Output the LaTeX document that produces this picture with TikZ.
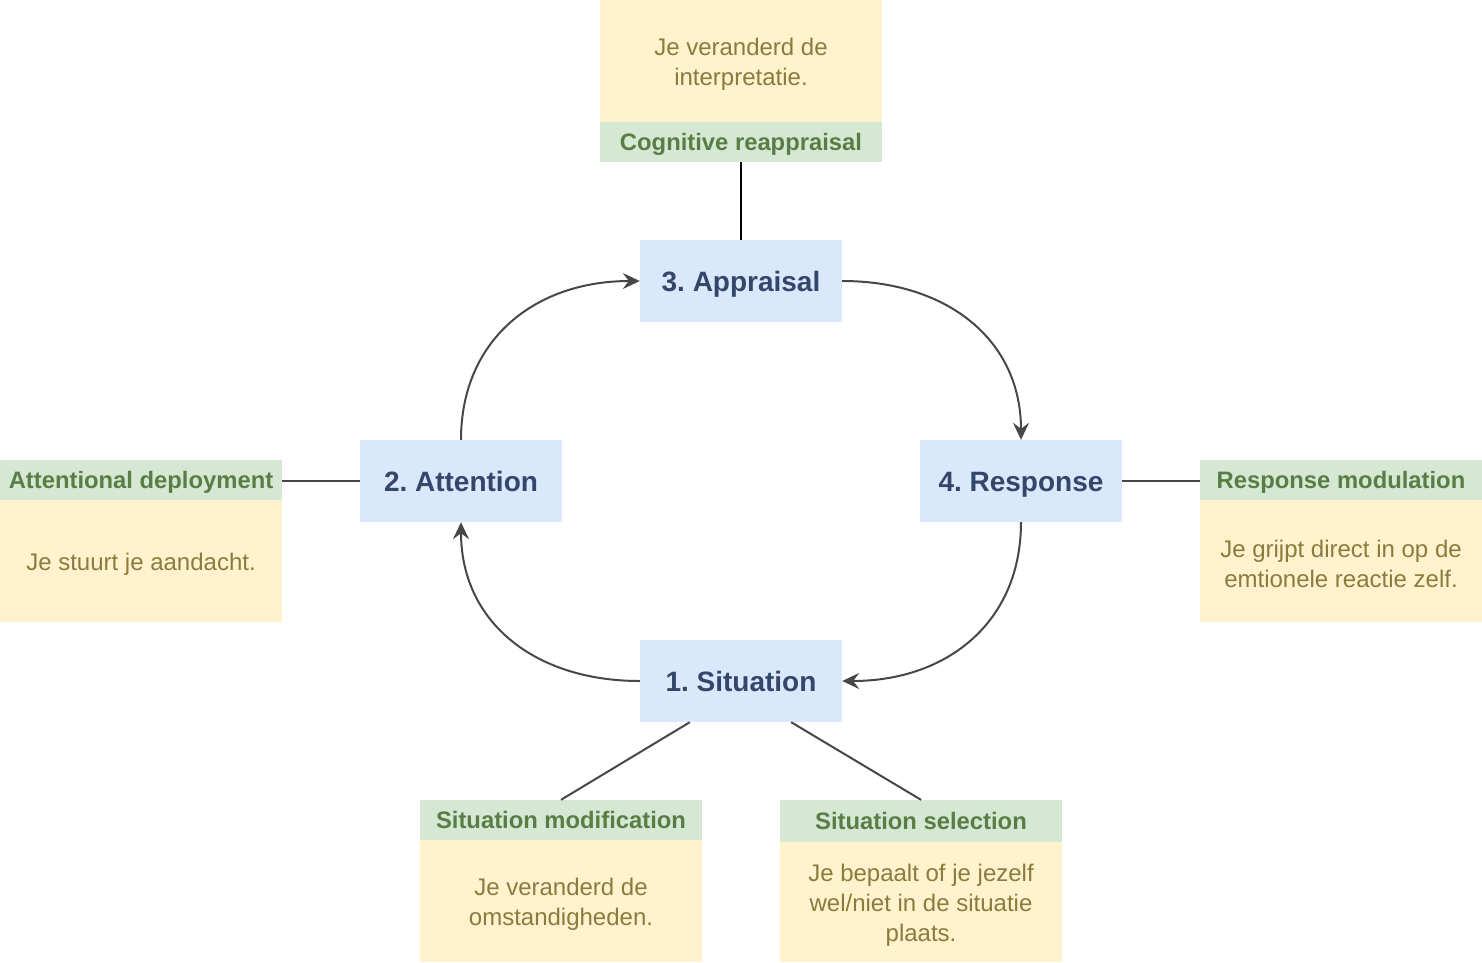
\documentclass[tikz,border=0pt]{standalone}
\usepackage{fontspec}
\setmainfont{Liberation Sans}
\frenchspacing
\usetikzlibrary{calc,arrows.meta}
\definecolor{bfill}{HTML}{DAE8FC}
\definecolor{btext}{HTML}{34476A}
\definecolor{gfill}{HTML}{D5E8D4}
\definecolor{gtext}{HTML}{5A7D46}
\definecolor{yfill}{HTML}{FFF2CC}
\definecolor{ytext}{HTML}{8C7A3E}
\definecolor{lgray}{HTML}{474747}
\tikzset{
  stage/.style={rectangle, fill=bfill, text=btext, minimum width=202pt, minimum height=82pt, inner sep=0pt,
    text height=20.2pt, text depth=0pt,
    font=\fontsize{28}{34}\selectfont\bfseries},
  head/.style={rectangle, fill=gfill, text=gtext, minimum width=282pt, minimum height=40pt, inner sep=0pt,
    text height=17.1pt, text depth=0pt,
    font=\fontsize{23.8}{28}\selectfont\bfseries},
  desc/.style={rectangle, fill=yfill, minimum width=282pt, minimum height=122pt, inner sep=0pt},
  desctext/.style={text=ytext, align=center, inner sep=0pt, yshift=-3pt, font=\fontsize{24}{30}\selectfont},
  flow/.style={draw=lgray, line width=2pt, -{Stealth[length=17pt,width=16pt,inset=6pt]}},
  link/.style={draw=lgray, line width=2pt},
}
\begin{document}
\begin{tikzpicture}[x=1pt,y=-1pt]
\useasboundingbox (0,0) rectangle (1482,962);
% stages
\node[stage] (app) at (741,281) {3. Appraisal};
\node[stage] (att) at (461,481) {2. Attention};
\node[stage] (res) at (1021,481) {4. Response};
\node[stage] (sit) at (741,681) {1. Situation};
% strategy boxes
\node[desc, label={[desctext]center:{Je veranderd de\\interpretatie.}}] (cogY) at (741,61) {};
\node[head] (cogG) at (741,142) {Cognitive reappraisal};
\node[head] (attG) at (141,480) {Attentional deployment};
\node[desc, label={[desctext]center:{Je stuurt je aandacht.}}] (attY) at (141,561) {};
\node[head] (resG) at (1341,480) {Response modulation};
\node[desc, label={[desctext]center:{Je grijpt direct in op de\\emtionele reactie zelf.}}] (resY) at (1341,561) {};
\node[head] (modG) at (561,820) {Situation modification};
\node[desc, label={[desctext]center:{Je veranderd de\\omstandigheden.}}] (modY) at (561,901) {};
\node[head, minimum height=42pt] (selG) at (921,821) {Situation selection};
\node[desc, minimum height=120pt, label={[desctext]center:{Je bepaalt of je jezelf\\wel/niet in de situatie\\plaats.}}] (selY) at (921,902) {};
% cycle
\draw[flow] (att.north) .. controls ($(att.north)+(0,-100)$) and ($(app.west)+(-105,0)$) .. (app.west);
\draw[flow] (app.east) .. controls ($(app.east)+(105,0)$) and ($(res.north)+(0,-100)$) .. (res.north);
\draw[flow] (res.south) .. controls ($(res.south)+(0,100)$) and ($(sit.east)+(105,0)$) .. (sit.east);
\draw[flow] (sit.west) .. controls ($(sit.west)+(-105,0)$) and ($(att.south)+(0,100)$) .. (att.south);
% links
\draw[line width=2pt, black] (cogG.south) -- (app.north);
\draw[link] (att.west) -- (att.west -| attG.east);
\draw[link] (res.east) -- (res.east -| resG.west);
\coordinate (s1) at ($(sit.south west)+(50,0)$);
\coordinate (s2) at ($(sit.south east)+(-51,0)$);
\draw[link] (s1) -- (modG.north);
\draw[link] (s2) -- (selG.north);
\end{tikzpicture}
\end{document}
